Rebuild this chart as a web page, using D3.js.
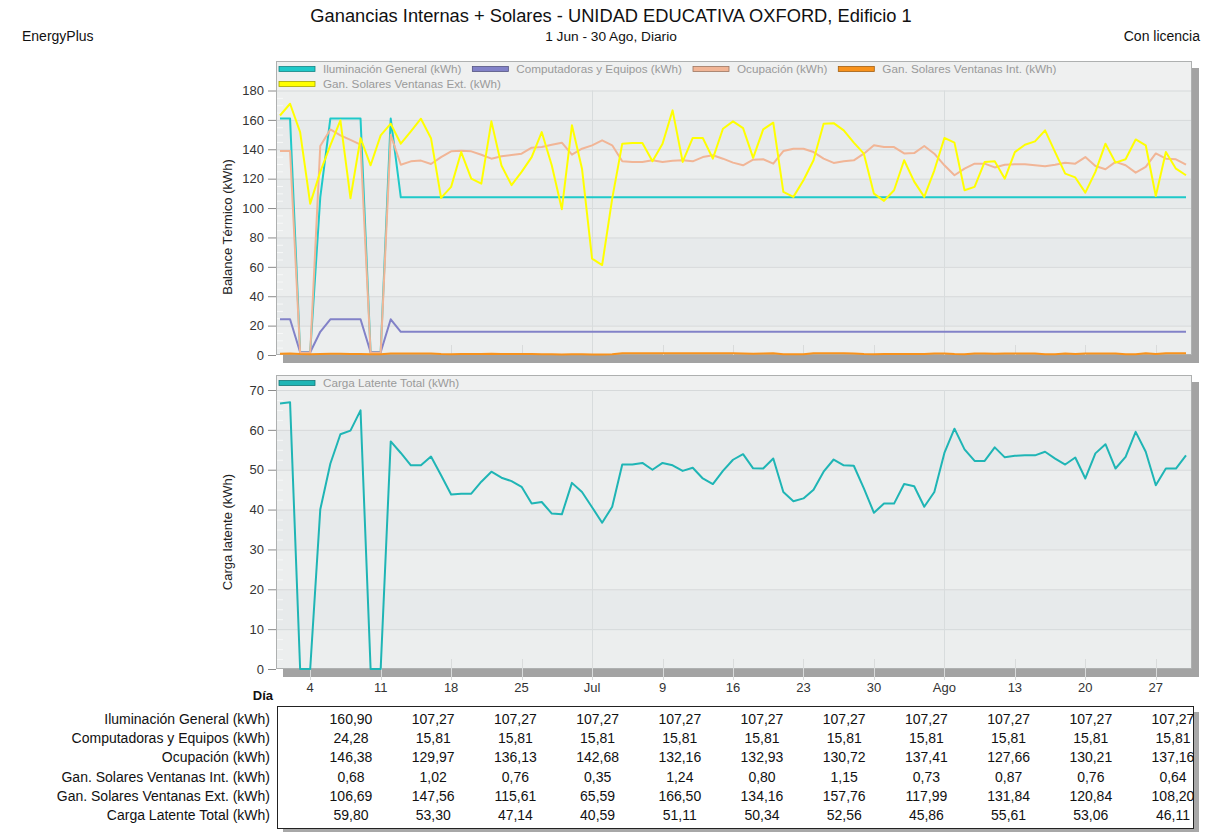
<!DOCTYPE html>
<html>
<head>
<meta charset="utf-8">
<script src="https://cdn.jsdelivr.net/npm/d3@7"></script>
<style>
  html, body { margin: 0; padding: 0; background: #ffffff; }
  svg { display: block; font-family: "Liberation Sans", Arial, sans-serif; }
</style>
</head>
<body>
<svg id="chart" width="1223" height="832"></svg>
<script>
// Daily results, 1 Jun - 30 Aug (91 days)
const startDate = new Date(Date.UTC(2017, 5, 1));
const days = d3.utcDay.range(startDate, new Date(Date.UTC(2017, 7, 31)));

const iluminacion = [
  160.90, 160.90, 1.9, 1.9, 107.27, 160.90, 160.90, 160.90, 160.90, 1.9,
  1.9, 160.90, 107.27, 107.27, 107.27, 107.27, 107.27, 107.27, 107.27, 107.27,
  107.27, 107.27, 107.27, 107.27, 107.27, 107.27, 107.27, 107.27, 107.27, 107.27,
  107.27, 107.27, 107.27, 107.27, 107.27, 107.27, 107.27, 107.27, 107.27, 107.27,
  107.27, 107.27, 107.27, 107.27, 107.27, 107.27, 107.27, 107.27, 107.27, 107.27,
  107.27, 107.27, 107.27, 107.27, 107.27, 107.27, 107.27, 107.27, 107.27, 107.27,
  107.27, 107.27, 107.27, 107.27, 107.27, 107.27, 107.27, 107.27, 107.27, 107.27,
  107.27, 107.27, 107.27, 107.27, 107.27, 107.27, 107.27, 107.27, 107.27, 107.27,
  107.27, 107.27, 107.27, 107.27, 107.27, 107.27, 107.27, 107.27, 107.27, 107.27,
  107.27
];

const computadoras = [
  24.28, 24.28, 1.9, 1.9, 15.81, 24.28, 24.28, 24.28, 24.28, 1.9,
  1.9, 24.28, 15.81, 15.81, 15.81, 15.81, 15.81, 15.81, 15.81, 15.81,
  15.81, 15.81, 15.81, 15.81, 15.81, 15.81, 15.81, 15.81, 15.81, 15.81,
  15.81, 15.81, 15.81, 15.81, 15.81, 15.81, 15.81, 15.81, 15.81, 15.81,
  15.81, 15.81, 15.81, 15.81, 15.81, 15.81, 15.81, 15.81, 15.81, 15.81,
  15.81, 15.81, 15.81, 15.81, 15.81, 15.81, 15.81, 15.81, 15.81, 15.81,
  15.81, 15.81, 15.81, 15.81, 15.81, 15.81, 15.81, 15.81, 15.81, 15.81,
  15.81, 15.81, 15.81, 15.81, 15.81, 15.81, 15.81, 15.81, 15.81, 15.81,
  15.81, 15.81, 15.81, 15.81, 15.81, 15.81, 15.81, 15.81, 15.81, 15.81,
  15.81
];

const ocupacion = [
  138.8, 138.8, 1.5, 1.5, 142.2, 153.5, 149.5, 146.38, 143.1, 1.5,
  1.5, 149.9, 129.5, 131.8, 132.3, 129.97, 134.7, 138.6, 139.0, 138.6,
  136.3, 133.6, 135.2, 136.13, 137.0, 141.1, 141.5, 143.1, 144.5, 136.3,
  140.4, 142.68, 146.1, 142.7, 131.8, 131.4, 131.4, 132.5, 131.4, 132.16,
  132.5, 131.8, 134.7, 135.9, 133.6, 130.9, 129.1, 132.93, 133.2, 130.2,
  138.8, 140.4, 140.4, 138.1, 133.6, 130.72, 131.8, 132.5, 137.0, 142.7,
  141.5, 141.5, 137.2, 137.41, 142.2, 137.0, 129.1, 122.3, 126.8, 130.2,
  130.2, 127.66, 129.5, 129.8, 129.8, 129.1, 128.4, 129.5, 130.9, 130.21,
  134.7, 128.6, 126.4, 131.4, 129.1, 124.1, 128.0, 137.16, 133.6, 133.2,
  129.5
];

const solaresInt = [
  0.82, 0.95, 0.60, 0.55, 0.70, 0.88, 0.92, 0.68, 0.74, 0.50,
  0.45, 0.96, 1.05, 0.98, 1.10, 1.02, 0.62, 0.58, 0.71, 0.66,
  0.75, 0.80, 0.69, 0.76, 0.72, 0.64, 0.55, 0.49, 0.42, 0.58,
  0.47, 0.35, 0.41, 0.52, 1.12, 1.18, 1.21, 1.15, 1.20, 1.24,
  1.19, 1.22, 1.17, 1.14, 1.20, 1.16, 1.10, 0.80, 1.08, 1.12,
  0.55, 0.50, 0.48, 1.15, 1.18, 1.15, 1.20, 1.10, 0.62, 0.58,
  0.60, 0.66, 0.70, 0.73, 0.68, 1.05, 0.95, 0.62, 0.58, 1.02,
  1.06, 0.87, 1.04, 1.08, 1.10, 1.06, 0.55, 0.52, 1.02, 0.76,
  1.05, 1.08, 1.04, 1.06, 0.58, 0.55, 1.12, 0.64, 1.18, 1.15,
  1.20
];

const solaresExt = [
  163.0, 171.0, 151.7, 103.0, 124.6, 142.7, 159.7, 106.69, 147.6, 129.1,
  149.5, 157.4, 143.8, 152.2, 160.8, 147.56, 106.9, 114.4, 138.1, 120.0,
  116.6, 159.0, 129.0, 115.61, 124.6, 134.7, 151.7, 129.0, 99.2, 156.3,
  126.8, 65.59, 61.2, 106.4, 143.8, 144.3, 144.3, 131.8, 143.8, 166.50,
  131.4, 147.7, 147.7, 133.6, 154.0, 159.0, 154.4, 134.16, 153.5, 158.1,
  111.0, 107.6, 118.9, 132.5, 157.4, 157.76, 152.9, 144.5, 137.0, 109.8,
  104.9, 112.1, 132.5, 117.99, 107.6, 125.7, 147.7, 144.5, 112.1, 114.4,
  131.4, 131.84, 120.0, 138.1, 143.1, 145.4, 152.9, 138.1, 123.4, 120.84,
  110.5, 124.6, 143.8, 130.9, 133.2, 146.7, 142.7, 108.20, 138.1, 126.8,
  122.3
];

const cargaLatente = [
  66.6, 66.9, 0, 0, 40.0, 51.5, 58.9, 59.80, 64.9, 0,
  0, 57.1, 54.2, 51.1, 51.1, 53.30, 48.6, 43.8, 44.0, 44.0,
  47.0, 49.5, 48.0, 47.14, 45.7, 41.5, 41.9, 39.0, 38.8, 46.7,
  44.4, 40.59, 36.7, 40.7, 51.3, 51.3, 51.7, 50.0, 51.7, 51.11,
  49.7, 50.5, 47.8, 46.4, 49.7, 52.5, 53.9, 50.34, 50.3, 52.8,
  44.4, 42.1, 42.8, 45.0, 49.5, 52.56, 51.1, 51.0, 45.3, 39.2,
  41.5, 41.5, 46.4, 45.86, 40.7, 44.4, 54.2, 60.3, 55.1, 52.2,
  52.2, 55.61, 53.1, 53.5, 53.6, 53.6, 54.5, 52.8, 51.3, 53.06,
  47.8, 54.1, 56.4, 50.3, 53.2, 59.5, 54.5, 46.11, 50.3, 50.3,
  53.6
];

// Axis ticks and labels
const ticksBalance = d3.range(0, 181, 20);
const ticksLatente = d3.range(0, 71, 10);
const mesesAbrev = ["Ene", "Feb", "Mar", "Abr", "May", "Jun", "Jul", "Ago", "Sep", "Oct", "Nov", "Dic"];
// Days listed in the summary table (every 8th day, starting on the 8th)
const diasTabla = d3.range(7, days.length, 8);

const seriesBalance = [
  { nombre: "Iluminación General (kWh)", valores: iluminacion, color: "#1fc9c9" },
  { nombre: "Computadoras y Equipos (kWh)", valores: computadoras, color: "#8282c8" },
  { nombre: "Ocupación (kWh)", valores: ocupacion, color: "#f1b596" },
  { nombre: "Gan. Solares Ventanas Int. (kWh)", valores: solaresInt, color: "#f8921c" },
  { nombre: "Gan. Solares Ventanas Ext. (kWh)", valores: solaresExt, color: "#ffff00" }
];
const serieLatente = { nombre: "Carga Latente Total (kWh)", valores: cargaLatente, color: "#1fb5b5" };
const filasTabla = [...seriesBalance, serieLatente];

// ---------------------------------------------------------------
const svg = d3.select("#chart");
const frameX0 = 276, frameX1 = 1192;
const shadow = 7;

const x = d3.scaleUtc().domain([days[0], days[days.length - 1]]).range([280, 1186]);
const yTop = d3.scaleLinear().domain([0, 180]).range([355, 90.5]);
const yBot = d3.scaleLinear().domain([0, 70]).range([669, 390]);

const sundays = d3.utcSunday.range(days[0], d3.utcDay.offset(days[days.length - 1], 1));
const tickLabel = (d, i) => {
  if (i > 0 && sundays[i - 1].getUTCMonth() !== d.getUTCMonth()) return mesesAbrev[d.getUTCMonth()];
  return String(d.getUTCDate());
};
const monthTicks = sundays.filter((d, i) => i > 0 && sundays[i - 1].getUTCMonth() !== d.getUTCMonth());

// Header
svg.append("text").attr("x", 611).attr("y", 22).attr("text-anchor", "middle")
  .attr("font-size", 18.3).attr("fill", "#111")
  .text("Ganancias Internas + Solares - UNIDAD EDUCATIVA OXFORD, Edificio 1");
svg.append("text").attr("x", 611).attr("y", 41).attr("text-anchor", "middle")
  .attr("font-size", 13.7).attr("fill", "#111").text("1 Jun - 30 Ago, Diario");
svg.append("text").attr("x", 22).attr("y", 41).attr("font-size", 14).attr("fill", "#111").text("EnergyPlus");
svg.append("text").attr("x", 1200).attr("y", 41).attr("text-anchor", "end")
  .attr("font-size", 14).attr("fill", "#111").text("Con licencia");

function panel(frameTop, y, ticks, series, axisTitle, titleY, showLabels) {
  const g = svg.append("g");
  const bottom = y(0);
  // drop shadow and frame
  g.append("rect").attr("x", frameX0 + shadow).attr("y", frameTop + shadow)
    .attr("width", frameX1 - frameX0).attr("height", bottom - frameTop + 1).attr("fill", "#a3a3a3");
  g.append("rect").attr("x", frameX0).attr("y", frameTop)
    .attr("width", frameX1 - frameX0).attr("height", bottom - frameTop).attr("fill", "#eff0f0");

  // alternating bands
  for (let k = 0; k < ticks.length - 1; k++) {
    const y0 = y(ticks[k + 1]), y1 = y(ticks[k]);
    g.append("rect").attr("x", frameX0).attr("y", y0).attr("width", frameX1 - frameX0)
      .attr("height", y1 - y0).attr("fill", (ticks.length - 2 - k) % 2 === 0 ? "#eceeee" : "#e7eaeb");
  }
  // horizontal grid
  g.selectAll(".hg").data(ticks.slice(1)).join("line")
    .attr("x1", frameX0).attr("x2", frameX1).attr("y1", d => y(d) + 0.5).attr("y2", d => y(d) + 0.5)
    .attr("stroke", "#d6d9da");
  // minor ticks inside the left edge
  const step = ticks[1] - ticks[0];
  const minors = d3.range(0, ticks[ticks.length - 1], step / 4).filter(v => v % step !== 0);
  g.selectAll(".mt").data(minors).join("line")
    .attr("x1", frameX0 + 1).attr("x2", frameX0 + 7).attr("y1", d => y(d) + 0.5).attr("y2", d => y(d) + 0.5)
    .attr("stroke", "#f7f8f8");
  // vertical grid at month ticks
  g.selectAll(".vg").data(monthTicks).join("line")
    .attr("x1", d => Math.round(x(d)) + 0.5).attr("x2", d => Math.round(x(d)) + 0.5)
    .attr("y1", y(ticks[ticks.length - 1])).attr("y2", bottom)
    .attr("stroke", "#d8dcdd");
  // frame border
  g.append("rect").attr("x", frameX0 + 0.5).attr("y", frameTop + 0.5)
    .attr("width", frameX1 - frameX0 - 1).attr("height", bottom - frameTop - 1)
    .attr("fill", "none").attr("stroke", "#aeb0b0");
  // bottom axis band ticks
  g.selectAll(".xt").data(sundays).join("line")
    .attr("x1", d => Math.round(x(d)) + 0.5).attr("x2", d => Math.round(x(d)) + 0.5)
    .attr("y1", bottom - 10).attr("y2", bottom + (showLabels ? 11 : 0))
    .attr("stroke", "#d9dbdb");
  if (showLabels) {
    g.selectAll(".xl").data(sundays).join("text")
      .attr("x", d => x(d)).attr("y", bottom + 23).attr("text-anchor", "middle")
      .attr("font-size", 13).attr("fill", "#333").text(tickLabel);
  }

  // y axis
  const ya = g.append("g").attr("transform", `translate(${frameX0},0)`)
    .call(d3.axisLeft(y).tickValues(ticks).tickSize(8).tickPadding(4));
  ya.select(".domain").remove();
  ya.selectAll(".tick line").attr("stroke", "#8a8a8a");
  ya.selectAll(".tick text").attr("font-size", 13).attr("fill", "#333")
    .attr("font-family", "'Liberation Sans', Arial, sans-serif");
  g.append("text").attr("transform", `translate(232,${titleY}) rotate(-90)`)
    .attr("text-anchor", "middle").attr("font-size", 13).attr("fill", "#222").text(axisTitle);

  // legend
  let lx = 279, ly = frameTop + 8;
  series.forEach(s => {
    const c = d3.color(s.color);
    const item = g.append("g");
    item.append("rect").attr("x", lx).attr("y", ly - 2.5).attr("width", 36).attr("height", 5)
      .attr("fill", s.color).attr("stroke", c.darker(1.2)).attr("stroke-width", 0.8);
    const t = item.append("text").attr("x", lx + 44).attr("y", ly + 4)
      .attr("font-size", 11.7).attr("fill", "#9a9a9a").text(s.nombre);
    const w = t.node().getComputedTextLength();
    let next = lx + 44 + w + 11;
    if (next + 200 > frameX1) { lx = 279; ly += 15; } else { lx = next; }
  });

  // series lines
  const clipId = "clip" + frameTop;
  svg.append("clipPath").attr("id", clipId).append("rect")
    .attr("x", frameX0).attr("y", frameTop).attr("width", frameX1 - frameX0).attr("height", bottom - frameTop + 2);
  const line = d3.line().x((d, i) => x(days[i])).y(d => y(d));
  g.append("g").attr("clip-path", `url(#${clipId})`)
    .selectAll("path").data(series).join("path")
    .attr("d", s => line(s.valores)).attr("fill", "none")
    .attr("stroke", s => s.color).attr("stroke-width", 2).attr("stroke-linejoin", "round");
}

panel(61, yTop, ticksBalance, seriesBalance, "Balance Térmico (kWh)", 227, false);
panel(375, yBot, ticksLatente, [serieLatente], "Carga latente (kWh)", 532, true);

// "Día" caption
svg.append("text").attr("x", 273).attr("y", 700).attr("text-anchor", "end")
  .attr("font-size", 13).attr("font-weight", "bold").attr("fill", "#111").text("Día");

// Summary table
const tx0 = 277, ty0 = 706, tw = 916, th = 122;
svg.append("rect").attr("x", tx0 + 6).attr("y", ty0 + 6).attr("width", tw).attr("height", th).attr("fill", "#a8a8a8");
svg.append("rect").attr("x", tx0 + 0.5).attr("y", ty0 + 0.5).attr("width", tw).attr("height", th)
  .attr("fill", "#ffffff").attr("stroke", "#222");
const fmt = v => v.toFixed(2).replace(".", ",");
const colX = d3.scalePoint().domain(diasTabla).range([351, 1173]);
const rowY = d3.scalePoint().domain(filasTabla.map(s => s.nombre)).range([724, 820]);
filasTabla.forEach(s => {
  svg.append("text").attr("x", 270).attr("y", rowY(s.nombre)).attr("text-anchor", "end")
    .attr("font-size", 14).attr("fill", "#111").text(s.nombre);
  svg.append("g").selectAll("text").data(diasTabla).join("text")
    .attr("x", d => colX(d)).attr("y", rowY(s.nombre)).attr("text-anchor", "middle")
    .attr("font-size", 14).attr("fill", "#111").text(d => fmt(s.valores[d]));
});
</script>
</body>
</html>
